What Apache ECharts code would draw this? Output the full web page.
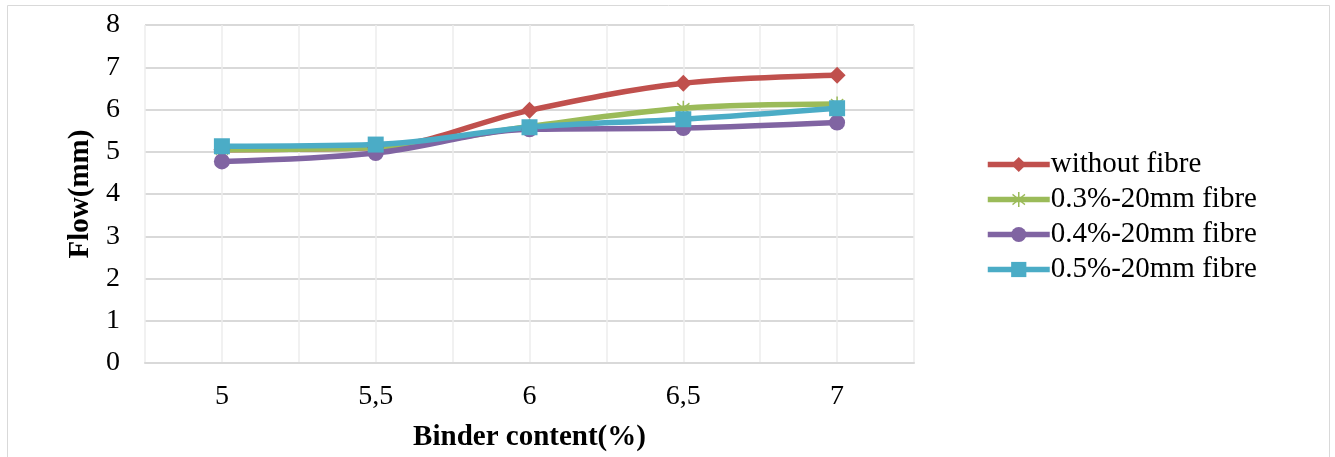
<!DOCTYPE html>
<html>
<head>
<meta charset="utf-8">
<title>Flow vs binder content</title>
<script src="https://cdn.jsdelivr.net/npm/echarts@6/dist/echarts.min.js"></script>
<style>
  html, body { margin: 0; padding: 0; background: #fff; }
  #chart { width: 1335px; height: 457px; }
</style>
</head>
<body>
<div id="chart"></div>
<script>
// binder content (%) on the x axis
var binder = [5, 5.5, 6, 6.5, 7];
// flow (mm) per series
var withoutFibre = [5.05, 5.10, 5.98, 6.62, 6.81];
var fibre03 = [5.05, 5.10, 5.60, 6.03, 6.13];
var fibre04 = [4.77, 4.97, 5.53, 5.56, 5.69];
var fibre05 = [5.13, 5.17, 5.58, 5.77, 6.03];
var seriesNames = ['without fibre', '0.3%-20mm fibre', '0.4%-20mm fibre', '0.5%-20mm fibre'];

function pairs(vals) {
    var out = [];
    for (var i = 0; i < binder.length; i++) {
        out.push([binder[i], vals[i]]);
    }
    return out;
}

var font = 'Liberation Serif, Times New Roman, serif';
// asterisk marker for the 0.3% series
var starPath = 'path://M9,0 L11,0 L11,20 L9,20 Z M1.3,4.2 L2.3,2.5 L18.7,15.8 L17.7,17.5 Z M1.3,15.8 L17.7,2.5 L18.7,4.2 L2.3,17.5 Z M0,9 L20,9 L20,11 L0,11 Z';

function lineSeries(name, vals, color, symbol, size) {
    return {
        name: name,
        type: 'line',
        smooth: 0.35,
        data: pairs(vals),
        symbol: symbol,
        symbolSize: size,
        lineStyle: { color: color, width: 5.5 },
        itemStyle: { color: color },
        emphasis: { disabled: true }
    };
}

var myChart = echarts.init(document.getElementById('chart'));
var option = {
    animation: false,
    graphic: [{
        type: 'rect',
        shape: { x: 7.5, y: 5.5, width: 1322, height: 470 },
        style: { fill: 'none', stroke: '#d9d9d9', lineWidth: 1 },
        silent: true
    }],
    grid: { left: 145, right: 421, top: 25, bottom: 93 },
    legend: {
        orient: 'vertical',
        left: 980,
        top: 145,
        itemWidth: 62,
        itemHeight: 19,
        itemGap: 6,
        data: seriesNames,
        lineStyle: { width: 5.5 },
        textStyle: { fontFamily: font, fontSize: 29, lineHeight: 29, color: '#000', padding: [0, 0, 0, -4] }
    },
    xAxis: {
        type: 'value',
        min: 4.75,
        max: 7.25,
        interval: 0.25,
        name: 'Binder content(%)',
        nameLocation: 'middle',
        nameGap: 60,
        nameTextStyle: { fontFamily: font, fontSize: 29, fontWeight: 'bold', color: '#000' },
        axisLine: { show: true, lineStyle: { color: '#d9d9d9', width: 2 } },
        axisTick: { show: false },
        axisLabel: {
            fontFamily: font, fontSize: 28, color: '#000', margin: 20,
            showMinLabel: false, showMaxLabel: false,
            formatter: function (v) {
                if (Math.abs(v * 2 - Math.round(v * 2)) > 1e-6) return '';
                return String(v).replace('.', ',');
            }
        },
        splitLine: { show: true, lineStyle: { color: '#ececec', width: 1.5 } }
    },
    yAxis: {
        type: 'value',
        min: 0,
        max: 8,
        interval: 1,
        name: 'Flow(mm)',
        nameLocation: 'middle',
        nameGap: 50,
        nameTextStyle: { fontFamily: font, fontSize: 29, fontWeight: 'bold', color: '#000' },
        axisLine: { show: false },
        axisTick: { show: false },
        axisLabel: { fontFamily: font, fontSize: 28, color: '#000', margin: 25 },
        splitLine: { show: true, lineStyle: { color: '#d9d9d9', width: 2 } }
    },
    series: [
        lineSeries(seriesNames[0], withoutFibre, '#c0504d', 'diamond', 17),
        lineSeries(seriesNames[1], fibre03, '#9bbb59', starPath, 15),
        lineSeries(seriesNames[2], fibre04, '#8064a2', 'circle', 16),
        lineSeries(seriesNames[3], fibre05, '#4bacc6', 'rect', 16)
    ]
};
myChart.setOption(option);
</script>
</body>
</html>
